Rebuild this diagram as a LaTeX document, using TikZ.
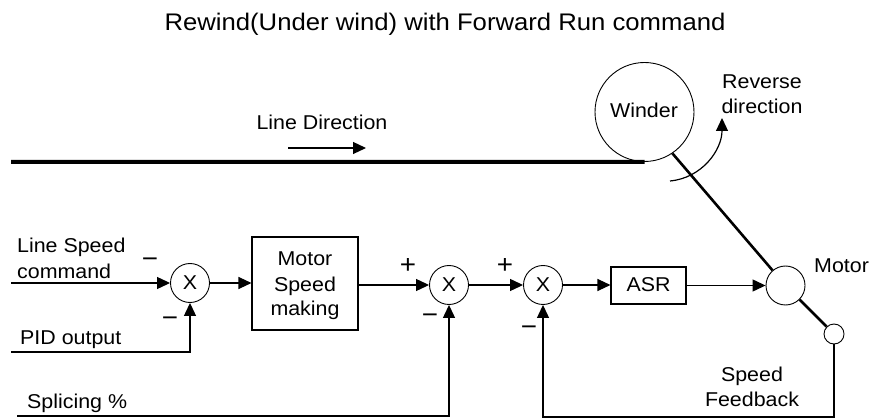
\documentclass[tikz,border=0pt]{standalone}
\usepackage{fontspec}
\setmainfont{Liberation Sans}[FakeStretch=1.07]
\usetikzlibrary{arrows.meta}
\begin{document}
\begin{tikzpicture}[x=1pt,y=-1pt,
  every node/.style={font=\fontsize{20}{24}\selectfont},
  sum/.style={draw, circle, line width=0.9pt, minimum size=39pt, inner sep=0pt},
  blk/.style={draw, line width=1.1pt, inner sep=0pt},
  lbl/.style={anchor=base, inner sep=0pt},
  sgn/.style={inner sep=0pt, font=\fontsize{26}{28}\selectfont},
  sig/.style={line width=1.2pt, -{Triangle[length=13pt,width=12pt]}},
  wire/.style={line width=1.2pt},
  shaft/.style={line width=2.6pt},
]
\useasboundingbox (0,0) rectangle (872,419);

% title
\node[lbl, font=\fontsize{24}{28}\selectfont] (title) at (445,31) {Rewind(Under wind) with Forward Run command};

% winder and line
\node[draw, circle, line width=0.9pt, minimum size=99pt, inner sep=0pt] (W) at (644.5,112) {};
\node[lbl] (wtxt) at (644,118) {Winder};
\coordinate (lstart) at (11,162);
\draw[line width=4pt] (lstart) -- (W.south);
\node[lbl] (ldir) at (322,130) {Line Direction};
\coordinate (la) at (288,148);
\coordinate (lb) at (366,148);
\draw[sig] (la) -- (lb);

% reverse direction
\node[lbl] (rev1) at (762,89) {Reverse};
\node[lbl] (rev2) at (762,114) {direction};
\coordinate (ra) at (670,181);
\coordinate (rb) at (722,118);
\draw[sig] (ra) .. controls (702,178) and (722,150) .. (rb);

% blocks
\node[sum] (S1) at (190,283) {X};
\node[blk, minimum width=106pt, minimum height=93pt] (MSM) at (305,283.5) {};
\node[lbl] (m1) at (305,266) {Motor};
\node[lbl] (m2) at (305,291.5) {Speed};
\node[lbl] (m3) at (305,316) {making};
\node[sum] (S2) at (449,285) {X};
\node[sum] (S3) at (543,285) {X};
\node[blk, minimum width=75pt, minimum height=37pt] (ASR) at (648.5,285.5) {};
\node[lbl] (asrt) at (648.5,292) {ASR};
\node[sum] (M) at (785.5,285.5) {};
\node[draw, circle, line width=0.9pt, minimum size=20pt, inner sep=0pt] (FB) at (834,334) {};
\node[lbl, anchor=base west] (mott) at (814,273) {Motor};
\node[lbl] (sf1) at (752,381) {Speed};
\node[lbl] (sf2) at (752,406) {Feedback};

% input labels
\node[lbl, anchor=base west] (ls1) at (17,253) {Line Speed};
\node[lbl, anchor=base west] (ls2) at (17,279) {command};
\node[lbl, anchor=base west] (pidt) at (20,344) {PID output};
\node[lbl, anchor=base west] (spt) at (27,408) {Splicing \%};

% signs
\node[sgn] (n1) at (150,263) {−};
\node[sgn] (n2) at (170,322) {−};
\node[sgn] (p2) at (408,266) {+};
\node[sgn] (n3) at (430,319) {−};
\node[sgn] (p3) at (505,266) {+};
\node[sgn] (n4) at (529,331) {−};

% signal connectors
\coordinate (lsin) at (11,283);
\coordinate (pidin) at (11,352);
\coordinate (spin) at (17,416);
\coordinate (fbb) at (834,417);
\draw[sig] (lsin) -- (S1.west);
\draw[sig] (pidin) -- (S1 |- pidin) -- (S1.south);
\draw[sig] (spin) -- (S2 |- spin) -- (S2.south);
\draw[sig] (S1.east) -- (S1.east -| MSM.west);
\draw[sig] (MSM.east |- S2) -- (S2.west);
\draw[sig] (S2.east) -- (S3.west);
\draw[sig] (S3.east) -- (S3.east -| ASR.west);
\draw[sig] (ASR.east |- M) -- (M.west);
\draw[sig] (FB.south) -- (fbb) -- (S3 |- fbb) -- (S3.south);

% shaft
\draw[shaft] (W.-56) -- (M);
\draw[shaft] (M) -- (FB);
\end{tikzpicture}
\end{document}
